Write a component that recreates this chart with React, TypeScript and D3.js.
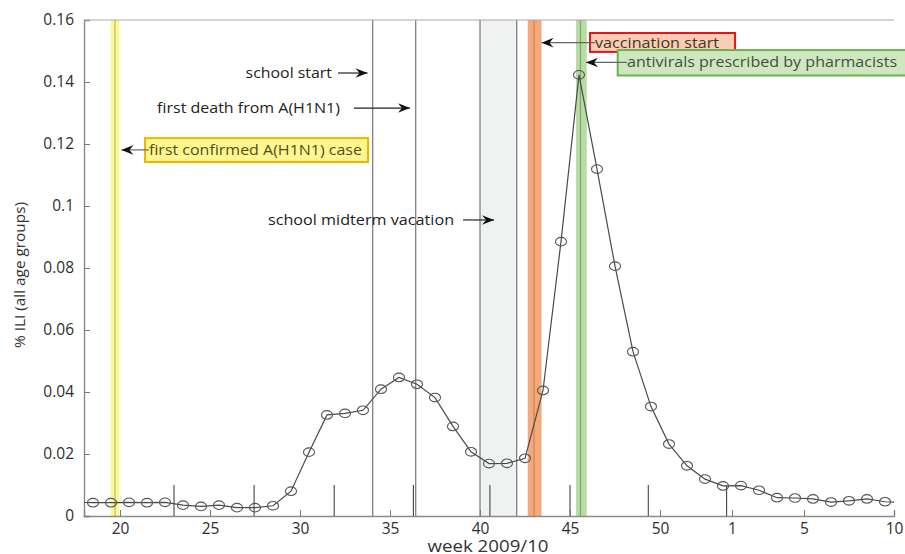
import React, { useRef, useEffect } from 'react'
import * as d3 from 'd3'

// weekly % ILI, 2009 weeks 17..53 then 2010 weeks 1..10
const weeks2009 = [17, 18, 19, 20, 21, 22, 23, 24, 25, 26, 27, 28, 29, 30, 31, 32, 33, 34, 35, 36, 37, 38, 39, 40, 41, 42, 43, 44, 45, 46, 47, 48, 49, 50, 51, 52, 53]
const ili2009 = [0.0044, 0.0043, 0.0043, 0.0044, 0.0043, 0.0044, 0.0035, 0.0031, 0.0035, 0.0027, 0.0027, 0.0033, 0.0080, 0.0206, 0.0326, 0.0331, 0.0341, 0.0409, 0.0447, 0.0425, 0.0382, 0.0289, 0.0207, 0.0169, 0.0170, 0.0186, 0.0405, 0.0885, 0.1423, 0.1119, 0.0806, 0.0530, 0.0353, 0.0232, 0.0162, 0.0119, 0.0097]
const weeks2010 = [1, 2, 3, 4, 5, 6, 7, 8, 9, 10]
const ili2010 = [0.0098, 0.0083, 0.0059, 0.0058, 0.0055, 0.0045, 0.0049, 0.0055, 0.0046, 0.0043]

// x axis is a running week index: 2010 week w -> 53 + w
const xTicks = [20, 25, 30, 35, 40, 45, 50, 54, 58, 63]
const xTickLabels = ['20', '25', '30', '35', '40', '45', '50', '1', '5', '10']
const yTicks = [0, 0.02, 0.04, 0.06, 0.08, 0.1, 0.12, 0.14, 0.16]
const yTickLabels = ['0', '0.02', '0.04', '0.06', '0.08', '0.1', '0.12', '0.14', '0.16']
// month boundaries (running week index)
const monthStarts = [23.0, 27.45, 31.9, 36.3, 40.55, 45.0, 49.35, 53.7]

// events
const schoolStart = 34.04
const firstDeath = 36.43
const vacation = [40.0, 42.04]
const firstCase = { band: [19.48, 19.96], line: 19.72 }
const vaccStart = { band: [42.65, 43.42], line: 43.0 }
const antivirals = { band: [45.33, 45.93], line: 45.58 }

export default function App() {
    const ref = useRef<SVGSVGElement>(null)
    const w = 905
    const h = 554

    useEffect(() => {
        const svg = d3.select(ref.current)
        svg.selectAll('*').remove()

        const x = d3.scaleLinear().domain([18, 63]).range([84, 894])
        const y = d3.scaleLinear().domain([0, 0.16]).range([516, 20])
        const font = '"Open Sans", "DejaVu Sans", sans-serif'

        const points = [
            ...weeks2009.map((wk, i) => ({ t: wk + 0.5, v: ili2009[i] })),
            ...weeks2010.map((wk, i) => ({ t: 53 + wk + 0.5, v: ili2010[i] })),
        ]

        svg.append('clipPath').attr('id', 'plot')
            .append('rect')
            .attr('x', x(18)).attr('y', y(0.16))
            .attr('width', x(63) - x(18)).attr('height', y(0) - y(0.16))

        const bands = svg.append('g')

        // coloured event bands
        const band = (b: number[], line: number, fill: string, stroke: string) => {
            bands.append('rect')
                .attr('x', x(b[0])).attr('y', y(0.16))
                .attr('width', x(b[1]) - x(b[0])).attr('height', y(0) - y(0.16))
                .attr('fill', fill)
            bands.append('line')
                .attr('x1', x(line)).attr('x2', x(line))
                .attr('y1', y(0.16)).attr('y2', y(0))
                .attr('stroke', stroke).attr('stroke-width', 1.3)
        }
        band(firstCase.band, firstCase.line, '#f9f89a', '#c4c257')
        band(vaccStart.band, vaccStart.line, '#f4a97c', '#d9844f')
        band(antivirals.band, antivirals.line, '#b9dba5', '#78ad62')

        bands.append('rect')
            .attr('x', x(vacation[0])).attr('y', y(0.16))
            .attr('width', x(vacation[1]) - x(vacation[0])).attr('height', y(0) - y(0.16))
            .attr('fill', '#f0f2f2')

        for (const t of [schoolStart, firstDeath, vacation[0], vacation[1]]) {
            bands.append('line')
                .attr('x1', x(t)).attr('x2', x(t))
                .attr('y1', y(0.16)).attr('y2', y(0))
                .attr('stroke', '#6a6a6a').attr('stroke-width', 1.1)
        }

        // month markers
        svg.append('g').selectAll('line')
            .data(monthStarts)
            .enter()
            .append('line')
            .attr('x1', d => x(d)).attr('x2', d => x(d))
            .attr('y1', y(0)).attr('y2', y(0.01))
            .attr('stroke', '#444').attr('stroke-width', 1.1)

        // axes
        const xAxis = d3.axisBottom(x)
            .tickValues(xTicks)
            .tickSize(-6)
            .tickPadding(7)
            .tickFormat((d, i) => xTickLabels[i])
        const gx = svg.append('g')
            .attr('transform', `translate(0,${y(0)})`)
            .call(xAxis)
        gx.select('.domain').attr('stroke', '#8a8a8a').attr('stroke-width', 1.4)
        gx.selectAll('.tick line').attr('stroke', '#777')
        gx.selectAll('.tick text').attr('font-size', 15.5).attr('font-family', font).attr('fill', '#2e2e2e')

        const yAxis = d3.axisLeft(y)
            .tickValues(yTicks)
            .tickSize(-6)
            .tickPadding(10)
            .tickFormat((d, i) => yTickLabels[i])
        const gy = svg.append('g')
            .attr('transform', `translate(${x(18)},0)`)
            .call(yAxis)
        gy.select('.domain').attr('stroke', '#8a8a8a').attr('stroke-width', 1.4)
        gy.selectAll('.tick line').attr('stroke', '#777')
        gy.selectAll('.tick text').attr('font-size', 15.5).attr('font-family', font).attr('fill', '#2e2e2e')

        svg.append('line')
            .attr('x1', x(18)).attr('x2', x(63))
            .attr('y1', y(0.16)).attr('y2', y(0.16))
            .attr('stroke', '#aaa').attr('stroke-width', 1.2)

        // data line and markers
        const line = d3.line<{ t: number, v: number }>()
            .x(d => x(d.t))
            .y(d => y(d.v))
        const plot = svg.append('g').attr('clip-path', 'url(#plot)')
        plot.append('path')
            .datum(points)
            .attr('d', line)
            .attr('fill', 'none')
            .attr('stroke', '#4a4a4a')
            .attr('stroke-width', 1.2)
        plot.selectAll('ellipse')
            .data(points)
            .enter()
            .append('ellipse')
            .attr('cx', d => x(d.t))
            .attr('cy', d => y(d.v))
            .attr('rx', 5.5)
            .attr('ry', 4.3)
            .attr('fill', 'none')
            .attr('stroke', '#555')
            .attr('stroke-width', 1.1)

        // annotations
        const ann = svg.append('g').attr('font-family', font).attr('font-size', 14)

        const head = (tx: number, ty: number, dir: number) => {
            const L = 12, H = 4.8, N = 4
            ann.append('path')
                .attr('d', `M${tx},${ty} L${tx - dir * L},${ty - H} L${tx - dir * (L - N)},${ty} L${tx - dir * L},${ty + H} Z`)
                .attr('fill', '#111')
        }
        const arrow = (t0: number, t1: number, v: number, color: string) => {
            ann.append('line')
                .attr('x1', x(t0)).attr('x2', x(t1))
                .attr('y1', y(v)).attr('y2', y(v))
                .attr('stroke', color).attr('stroke-width', 1.2)
            head(x(t1), y(v), t1 > t0 ? 1 : -1)
        }
        const label = (t0: number, t1: number, v: number, text: string, fill: string) => {
            ann.append('text')
                .attr('x', x(t0)).attr('y', y(v))
                .attr('dy', '0.35em')
                .attr('textLength', x(t1) - x(t0))
                .attr('lengthAdjust', 'spacingAndGlyphs')
                .attr('fill', fill)
                .text(text)
        }
        const box = (t0: number, t1: number, v0: number, v1: number, fill: string, stroke: string) => {
            ann.append('rect')
                .attr('x', x(t0)).attr('y', y(v1))
                .attr('width', x(t1) - x(t0)).attr('height', y(v0) - y(v1))
                .attr('fill', fill).attr('stroke', stroke).attr('stroke-width', 2)
        }

        label(26.98, 31.78, 0.1429, 'school start', '#222')
        arrow(32.11, 33.75, 0.1429, '#222')

        label(22.06, 32.22, 0.1316, 'first death from A(H1N1)', '#222')
        arrow(33.0, 36.11, 0.1316, '#222')

        label(28.22, 38.56, 0.0955, 'school midterm vacation', '#222')
        arrow(39.06, 40.78, 0.0955, '#222')

        box(21.39, 33.78, 0.1142, 0.1219, '#fff68f', '#f2b400')
        arrow(21.61, 20.08, 0.1181, '#666')
        label(21.61, 33.44, 0.1181, 'first confirmed A(H1N1) case', '#4f4f1c')

        box(46.11, 54.17, 0.1497, 0.1558, '#f8cdb4', '#e3141c')
        arrow(46.39, 43.42, 0.1527, '#666')
        label(46.39, 53.28, 0.1527, 'vaccination start', '#4a3428')

        box(47.65, 63.8, 0.1421, 0.1503, '#cfe7c1', '#6cb150')
        arrow(48.17, 45.89, 0.1463, '#666')
        label(48.17, 63.17, 0.1463, 'antivirals prescribed by pharmacists', '#3b5338')

        // axis titles
        svg.append('text')
            .attr('transform', `translate(25,${(y(0) + y(0.16)) / 2 + 7}) rotate(-90)`)
            .attr('text-anchor', 'middle')
            .attr('font-family', font)
            .attr('font-size', 15)
            .attr('textLength', 146)
            .attr('lengthAdjust', 'spacingAndGlyphs')
            .attr('fill', '#333')
            .text('% ILI (all age groups)')

        svg.append('text')
            .attr('x', 488)
            .attr('y', 552)
            .attr('text-anchor', 'middle')
            .attr('font-family', font)
            .attr('font-size', 16)
            .attr('textLength', 121)
            .attr('lengthAdjust', 'spacingAndGlyphs')
            .attr('fill', '#333')
            .text('week 2009/10')
    }, [])

    return (
        <div style={{ position: 'fixed', left: 0, top: 0 }}>
            <svg ref={ref} width={w} height={h} style={{ display: 'block', background: '#fff' }} />
        </div>
    )
}
